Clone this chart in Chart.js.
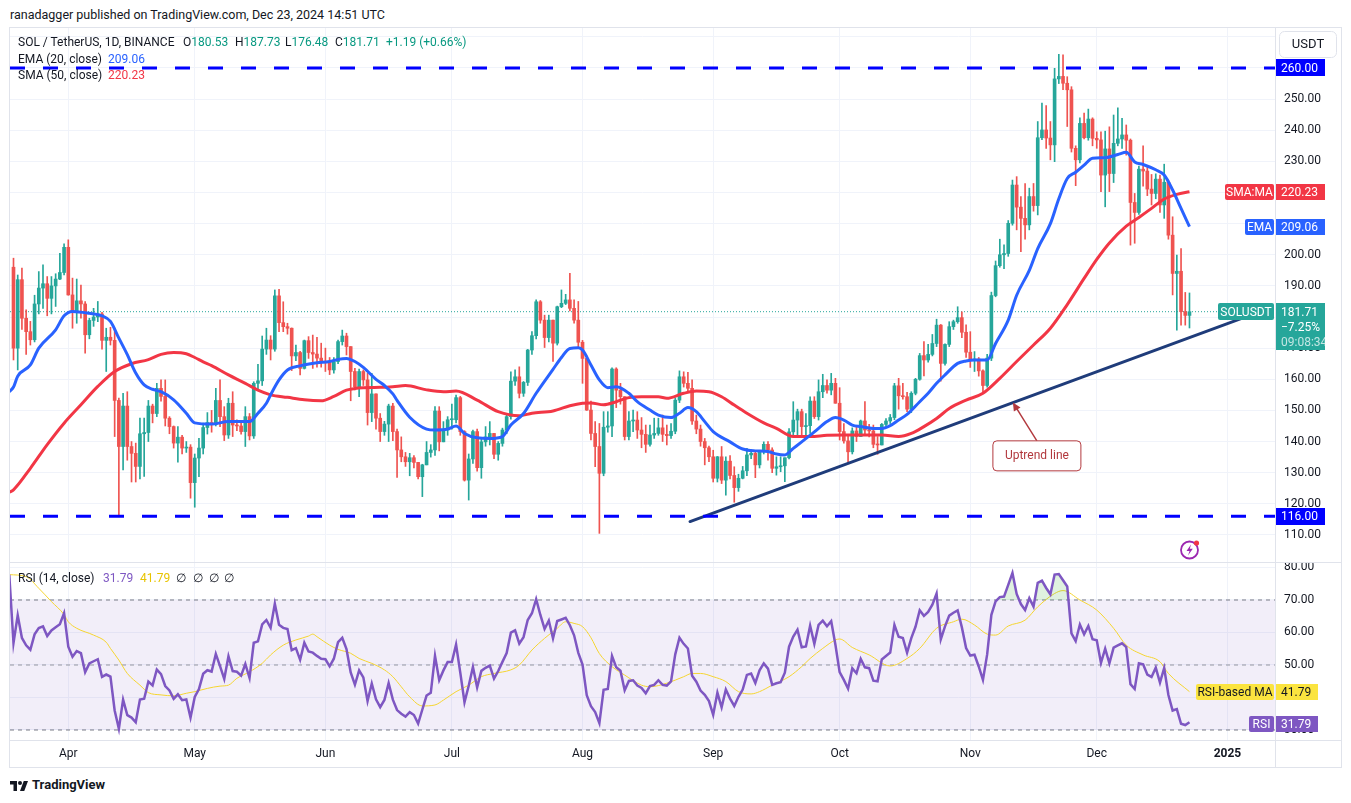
<!DOCTYPE html>
<html lang="en">
<head>
<meta charset="utf-8">
<title>SOL / TetherUS, 1D, BINANCE</title>
<script src="https://cdn.jsdelivr.net/npm/chart.js@4.4.1/dist/chart.umd.min.js"></script>
<style>
  html, body { margin: 0; padding: 0; background: #ffffff; }
  body { position: relative; width: 1351px; height: 803px; overflow: hidden;
         font-family: Roboto, "Liberation Sans", sans-serif; color: #131722; }
  canvas { position: absolute; }
  .rule { position: absolute; background: #e0e3eb; }
  .txt { position: absolute; white-space: nowrap; font-size: 12px; line-height: 16px; }
</style>
</head>
<body>

<div class="txt" style="left:10px;top:7px;font-size:12.5px;">ranadagger published on TradingView.com, Dec 23, 2024 14:51 UTC</div>

<canvas id="price-chart" style="left:10px;top:28px;" width="1331" height="534"></canvas>
<canvas id="rsi-chart" style="left:10px;top:562px;" width="1331" height="205"></canvas>

<!-- frame and pane separators -->
<div class="rule" style="left:9px;top:27px;width:1333px;height:1px;"></div>
<div class="rule" style="left:9px;top:767px;width:1333px;height:1px;"></div>
<div class="rule" style="left:9px;top:27px;width:1px;height:741px;"></div>
<div class="rule" style="left:1341px;top:27px;width:1px;height:741px;"></div>
<div class="rule" style="left:1275px;top:28px;width:1px;height:739px;"></div>
<div class="rule" style="left:10px;top:562px;width:1331px;height:1px;"></div>
<div class="rule" style="left:10px;top:740px;width:1331px;height:1px;"></div>

<!-- legend, price pane -->
<div class="txt" style="left:18px;top:34px;">SOL / TetherUS, 1D, BINANCE</div>
<div class="txt" style="left:183px;top:34px;">O<span style="color:#089981">180.53</span></div>
<div class="txt" style="left:235px;top:34px;">H<span style="color:#089981">187.73</span></div>
<div class="txt" style="left:285px;top:34px;">L<span style="color:#089981">176.48</span></div>
<div class="txt" style="left:335px;top:34px;">C<span style="color:#089981">181.71</span></div>
<div class="txt" style="left:386px;top:34px;color:#089981;">+1.19 (+0.66%)</div>
<div class="txt" style="left:18px;top:51px;">EMA (20, close)</div>
<div class="txt" style="left:108px;top:51px;color:#2962ff;">209.06</div>
<div class="txt" style="left:18px;top:67px;">SMA (50, close)</div>
<div class="txt" style="left:108px;top:67px;color:#f23645;">220.23</div>

<!-- legend, RSI pane -->
<div class="txt" style="left:18px;top:570px;">RSI (14, close)</div>
<div class="txt" style="left:103px;top:570px;color:#7e57c2;">31.79</div>
<div class="txt" style="left:140px;top:570px;color:#e8c400;">41.79</div>
<div class="txt" style="left:176px;top:570px;">&#8709;</div>
<div class="txt" style="left:193px;top:570px;">&#8709;</div>
<div class="txt" style="left:209px;top:570px;">&#8709;</div>
<div class="txt" style="left:224px;top:570px;">&#8709;</div>

<!-- alert icon -->
<svg style="position:absolute;left:1179px;top:539px;" width="22" height="22" viewBox="0 0 22 22">
  <circle cx="10.5" cy="11" r="8.5" fill="none" stroke="#9c27b0" stroke-width="1.8"/>
  <path d="M12 5.5 L7.5 12 H10.5 L9 16.5 L13.8 9.8 H10.8 Z" fill="#9c27b0"/>
  <circle cx="17.5" cy="4" r="2.6" fill="#f23645"/>
</svg>

<!-- TradingView mark -->
<svg style="position:absolute;left:10px;top:779px;" width="18" height="14" viewBox="0 0 36 28">
  <path d="M14 24H7V11H0V4h14z" fill="#131722"/>
  <circle cx="20" cy="8" r="4" fill="#131722"/>
  <path d="M28.5 24h-8.5l7.5-20h8.5z" fill="#131722"/>
</svg>
<div class="txt" style="left:32px;top:777px;font-size:13px;font-weight:bold;">TradingView</div>

<script>
/* ========================================
   SOL / TetherUS 1D - price pane + RSI pane
   values read off the TradingView snapshot
   ======================================== */

/* ---- daily candles, Mar 19 2024 .. Dec 23 2024 (index 0 .. 279) ---- */
/* open of each day = previous close (Binance daily) */
var firstOpen = 196;

var closes = [
    170, 192, 179.6, 175.3, 172.7, 184.2, 189.3, 190.7, 186, 190,
    192.2, 194.3, 202.4, 187.1, 181.8, 185.2, 184.2, 174.3, 178.9, 180,
    181, 172.5, 173.5, 172.5, 153.2, 138.4, 151.4, 138.4, 136.2, 132,
    142.5, 142.9, 151.4, 149, 157.1, 154.5, 147.5, 144.8, 139.5, 141.4,
    137.9, 138.2, 126.8, 134.7, 137.9, 144.5, 146.1, 145.5, 153.2, 148,
    142.1, 152.3, 145.3, 145, 143.2, 148, 141.8, 158.7, 159.5, 169.7,
    172.6, 169.7, 186.8, 178.2, 176.9, 176.4, 167.5, 168.6, 163.5, 172.4,
    168.6, 168.1, 166.8, 165.7, 165.5, 163, 165.7, 172.1, 173.9, 170.5,
    162.5, 157.6, 162.5, 159.8, 149.3, 155.3, 147.5, 143.2, 145.6, 151.4,
    143.2, 137.3, 135.1, 133.5, 134.8, 133.3, 128.7, 132.5, 136.5, 137.3,
    149.8, 139.9, 143.7, 147, 147, 154.1, 143.2, 127.6, 134.4, 143.2,
    131.6, 139.9, 141.5, 142.6, 135.9, 139.4, 143.7, 148, 159.4, 160.8,
    155.5, 159, 169.4, 174, 184.9, 179, 173.4, 179, 171.6, 183.3,
    184.4, 185.5, 182.8, 179, 171.9, 166.7, 150.1, 142.6, 138.4, 129.8,
    144.6, 145, 163.3, 156.5, 154.4, 141.6, 146.6, 146.9, 143.7, 142.3,
    139.1, 142.1, 142.6, 144.4, 142.3, 141.9, 143.3, 153.3, 160.8, 158.7,
    157.1, 146.6, 144, 140, 138, 135.1, 128.2, 135.1, 127.6, 133.7,
    129.1, 125.2, 128.2, 130.6, 135.7, 136.2, 132.5, 136.7, 139.1, 137.3,
    131.4, 131.9, 132.2, 134.8, 143.1, 146.9, 149.6, 144.8, 145.1, 153,
    148, 156, 158, 156.5, 158.7, 152.3, 143.2, 140.2, 136.7, 143.4,
    141.6, 146.6, 143.7, 143.4, 139.1, 138.9, 145.5, 146.6, 147.7, 157.9,
    154.7, 154.4, 150.4, 155.5, 160, 167.6, 166.2, 168, 171.5, 177.4,
    165.1, 171.2, 176.9, 178.5, 179.8, 175.1, 168.7, 166.2, 166.5, 162.7,
    158, 166.8, 186.9, 196.5, 200, 200.4, 210.1, 222.4, 215.3, 211.7,
    209.6, 218.7, 215.8, 237.6, 240.1, 237.5, 235.3, 256.5, 257.3, 255.1,
    253, 234.2, 230.5, 242.2, 237.6, 243.6, 237.4, 236.9, 225.6, 234,
    226.1, 235.8, 237.2, 238.5, 236.8, 216.8, 213.6, 227.5, 226.9, 221.1,
    219.7, 224.3, 216, 223.3, 206.3, 194, 194.7, 181.7, 180.52, 181.71
];

var highs = [
    198.9, 193.5, 195.7, 182.3, 178.6, 187, 194.6, 196.8, 193, 193,
    193.9, 200.5, 203.5, 204.8, 192.5, 192.2, 190.3, 185, 179.6, 182.8,
    185, 181.5, 176.4, 176.7, 176.4, 154, 155.5, 156, 140, 139.5,
    147.5, 147.5, 153.2, 152, 158.7, 159.8, 159.8, 148, 145, 144.8,
    142, 140, 139, 136, 141, 145.9, 149.3, 150, 157.1, 159.8,
    151.2, 153.9, 156, 147, 146, 151.2, 149, 159.2, 164.8, 173.9,
    176.4, 174, 188.7, 188.9, 184.9, 178, 176.5, 171, 169, 172.6,
    173.7, 174.2, 173.5, 171.6, 170, 167, 167, 172.6, 175.8, 174.8,
    170.5, 163.5, 163.3, 163, 161.9, 161.9, 155.3, 149, 146.5, 152,
    152.3, 144, 141.5, 136.5, 136.2, 135.5, 131.5, 132.7, 140, 139,
    151.2, 151.2, 146.4, 148, 152, 154.9, 154.5, 143.5, 136, 143.7,
    144, 141, 144.8, 146.4, 142, 140, 144.3, 148.5, 162.4, 163,
    164, 159.3, 169.6, 175.3, 185.5, 185.3, 180.6, 180.6, 179, 183.5,
    188.7, 187.3, 194, 185.5, 185, 172.5, 167.5, 153, 146.4, 145.8,
    149.6, 149.6, 163.7, 163.7, 158.7, 154.4, 149.6, 150.1, 149.6, 147.7,
    145.3, 145.3, 147.5, 147.5, 148.5, 145.3, 145.8, 154, 162.7, 162.4,
    162.2, 159.8, 148.5, 145.3, 141, 138.5, 137.2, 135.2, 138.4, 135.1,
    135.5, 131.9, 129.5, 132, 137.8, 137.3, 136.7, 136.8, 139.9, 140,
    138, 135.1, 135.1, 134.8, 144.2, 152.8, 150.4, 150.4, 149, 154.4,
    154.4, 159.8, 161.6, 159.8, 161.9, 160.3, 157.3, 145.8, 142.1, 144.4,
    144.8, 146.9, 152.8, 145.5, 145.3, 141.6, 145.8, 147.4, 148.7, 158.7,
    160.3, 158.7, 155.8, 156, 160.3, 168.3, 172.1, 171.2, 174.4, 179.3,
    177.6, 171.4, 178.5, 179, 183.3, 181.7, 177.5, 175.3, 168.9, 167,
    163, 168, 188, 198, 205, 203.2, 211, 224, 225.1, 218.7,
    222.9, 221.4, 222.9, 242.8, 248.7, 247.9, 242.8, 259.9, 264.4, 264.2,
    257.2, 254, 235, 244, 245.5, 246.8, 244, 239.5, 239.5, 239.7,
    241.1, 244.9, 247.2, 243.8, 241.7, 237.2, 219.7, 228.5, 235, 228.6,
    225.8, 226, 225.6, 229.1, 224, 212.2, 199.9, 202, 187.9, 187.73
];

var lows = [
    166.2, 163, 176, 168, 171, 172, 181, 182.8, 180.4, 181,
    183.4, 192, 193.5, 187, 176.4, 178, 179.6, 168.4, 173, 177,
    178.5, 169.7, 162.5, 171, 141.6, 116.2, 130.9, 134, 127, 127,
    128, 128.8, 140, 146, 148, 153, 145, 142.5, 137.9, 133.4,
    136, 136.5, 121.8, 118.9, 128.7, 136, 142.4, 143, 145, 144.8,
    140.3, 141, 141.6, 143.5, 142.4, 138.4, 140.5, 141, 157, 158,
    168, 166.2, 169, 175.3, 175.3, 174.5, 162.8, 166, 161.4, 163.3,
    166.7, 163.5, 163.9, 163.9, 162.5, 161.5, 162, 165, 171, 167.8,
    153.1, 156.6, 154.4, 158, 145.3, 146.4, 144, 140, 142, 140,
    140.3, 128.5, 133.5, 132, 129, 131.5, 128, 122.3, 134, 135,
    135.5, 137, 140, 142, 144, 146, 142, 127.3, 121.2, 133,
    130.5, 128.2, 138.5, 138.9, 134.5, 134, 138.5, 142.5, 147.2, 158,
    154, 154.5, 158, 168, 173, 178, 170.2, 172, 165.7, 171,
    183, 184, 182, 178, 170, 158.7, 150, 140.5, 131.9, 110.5,
    129, 143, 141.6, 150.9, 152, 140.5, 140.5, 143.2, 141, 138,
    136.5, 138.5, 141, 142, 140, 138.9, 141, 142.5, 152.5, 157.5,
    156, 145.5, 142.5, 138.5, 132.5, 133.5, 127, 127, 126.5, 122.8,
    128, 120.5, 124, 128, 129, 134.5, 128.4, 131.5, 136, 134,
    130, 129.2, 130.3, 127.1, 134.4, 141.5, 142.1, 141.5, 142.1, 142.6,
    147.4, 146.9, 154.1, 155.5, 155, 152.3, 140.5, 139.5, 133.5, 136,
    140, 142, 142.3, 141.5, 138, 135.9, 139, 145, 145.8, 147,
    150.4, 153.6, 149.6, 149.3, 155, 159.7, 161.1, 165.5, 167.5, 170.5,
    159.4, 164.5, 170.5, 176, 178, 173.4, 167, 163.8, 162.5, 161,
    155.5, 157.5, 166, 186.5, 196, 195.5, 199.5, 209.5, 208, 201,
    205, 208, 214, 212.8, 237, 234.2, 230.5, 229.9, 255, 253,
    241.2, 233, 222.2, 229.5, 237.2, 236.8, 235, 234.2, 220.3, 215.4,
    220.3, 223.2, 235, 234.2, 232, 203.1, 203.7, 213, 222, 219,
    216, 218, 213.6, 211.7, 205, 187.1, 175.8, 177.4, 177.4, 176.48
];

/* ---- EMA 20 / SMA 50 (day index, value) ---- */
var emaDays = [-1, 0, 1, 4, 6, 10, 12, 14, 18, 21, 23, 25, 27, 29, 31, 33, 35, 38, 41, 43,
    47, 51, 56, 58, 60, 61, 63, 65, 68, 72, 75, 77, 79, 81, 83, 86, 88, 90, 91, 94,
    98, 100, 103, 105, 107, 110, 113, 116, 118, 121, 124, 128, 130, 132, 134, 135, 137, 139, 141, 143,
    146, 148, 151, 153, 156, 158, 160, 162, 164, 166, 170, 173, 176, 179, 181, 183, 185, 187, 190, 193,
    195, 197, 199, 201, 204, 206, 208, 210, 212, 215, 217, 219, 221, 224, 226, 228, 231, 233, 236, 238,
    241, 243, 246, 248, 250, 252, 254, 256, 259, 262, 264, 266, 268, 271, 273, 275, 277, 279];
var emaValues = [156, 157.5, 161, 164.6, 170, 175.9, 180.4, 181.8, 181.2, 180.4, 178.6, 173.2, 167.9, 162, 158.2, 156.8, 156, 153.4, 149.1, 146,
    145.6, 146.4, 146.4, 149.1, 152.3, 155, 159.8, 163, 164.3, 165.3, 165.7, 166.4, 166.7, 165.7, 163.8, 160, 158, 155.3, 153.2, 147.8,
    144, 143.7, 144, 145, 142.6, 141.2, 141, 141.6, 145.3, 149, 155.5, 163.2, 167, 169.9, 170.1, 169.4, 164.6, 159.8, 157.3, 157.6,
    155.5, 152.8, 150.1, 148.5, 147.7, 149.1, 150.9, 149.6, 146.4, 143.2, 139.9, 137.6, 137, 136.8, 136, 135.7, 137.8, 139.9, 143.1, 146.4,
    147.7, 146.9, 145.3, 144.8, 144.2, 144.2, 145.1, 146.9, 148.7, 152.8, 155.5, 158.7, 161.4, 165.1, 165.9, 166.2, 166.2, 171.5, 179, 187,
    195, 202, 210, 218, 224.5, 226.5, 228.8, 231, 231.2, 232.2, 232.9, 229.8, 229, 227.3, 225.6, 220.8, 214.9, 209.06];

var smaDays = [-1, 0, 4, 8, 12, 16, 20, 24, 28, 32, 35, 38, 41, 43, 45, 47, 51, 55, 58, 61,
    65, 69, 73, 76, 79, 83, 87, 90, 93, 98, 102, 105, 110, 115, 120, 123, 128, 132, 135, 137,
    140, 143, 146, 149, 153, 155, 159, 162, 165, 168, 171, 174, 178, 181, 185, 189, 193, 197, 202, 206,
    210, 213, 216, 219, 222, 226, 230, 234, 238, 242, 246, 250, 254, 257, 260, 264, 267, 270, 273, 276, 279];
var smaValues = [123.7, 124.5, 131.4, 139, 145.9, 151.8, 157.7, 162.5, 165, 166.3, 168, 168.6, 168.2, 167, 165.6, 164.4, 161.4, 158.7, 156.5, 155,
    154.2, 153.4, 153.1, 154.5, 156.5, 157.3, 157.4, 157.6, 158, 156.6, 156, 156.2, 153.3, 149.6, 148.3, 149.1, 149.8, 151.5, 152.3, 152.4,
    151.8, 152.8, 154.1, 154.4, 154.4, 153.9, 155.5, 156.2, 156, 154.4, 151.7, 149.1, 146, 144.2, 141.6, 141.6, 142, 142.1, 142.1, 142.1,
    141.6, 142.6, 144.8, 147.4, 150.6, 153.3, 155.5, 160.3, 165.7, 171, 176.4, 184, 192.4, 198.5, 203.8, 209.2, 212, 214.9, 217.9, 219.4, 220.23];

/* ---- RSI-based MA (14) ---- */
var rsiMaDays = [-1, 3, 6, 9, 12, 13, 15, 19, 22, 23, 25, 27, 30, 32, 35, 38, 41, 43, 46, 49,
    51, 53, 56, 59, 61, 64, 67, 70, 71, 72, 75, 77, 80, 82, 85, 88, 90, 92, 94, 97,
    100, 102, 105, 108, 111, 114, 118, 120, 123, 126, 129, 131, 133, 135, 137, 139, 142, 145, 149, 151,
    155, 159, 161, 163, 166, 169, 172, 175, 177, 180, 184, 187, 189, 192, 195, 196, 199, 203, 208, 212,
    215, 219, 223, 225, 228, 231, 233, 236, 240, 243, 247, 249, 253, 257, 261, 264, 268, 272, 274, 279];
var rsiMaValues = [77.8, 77.2, 73.6, 69.5, 65.5, 63.3, 61.3, 59.2, 57, 55.1, 51.5, 47.4, 43.8, 41.5, 40.8, 40.5, 41.3, 41.8, 42.8, 43.5,
    43.8, 45.9, 47.9, 50.5, 53.1, 56.1, 57.7, 58.9, 59.5, 58.7, 56.1, 54.8, 53.6, 52, 50.5, 48.5, 46.4, 43.3, 40.2, 37.4,
    37.7, 39.2, 41.8, 43.8, 46.4, 47.4, 48.5, 50, 54.6, 58.2, 61.3, 63.3, 62.8, 61.8, 58.4, 53.5, 49.5, 46.9, 43.8, 43.3,
    44.4, 46.4, 47.4, 47.4, 46.4, 44.9, 41.8, 41.1, 41.8, 43.8, 46.4, 49.5, 52, 55.1, 57.7, 58, 55.4, 53.1, 49.7, 52,
    55.1, 61.3, 63.3, 64.1, 62.3, 59.5, 59.2, 62, 63.8, 67.9, 72, 72.9, 70, 66.9, 61.3, 56.1, 53.1, 51, 47.4, 41.79];

/* Wilder averages carried in from the days before the first visible candle */
var rsiSeedGain = 4.2;
var rsiSeedLoss = 1.2;

/* ---- axes, levels, drawings ---- */
var monthDays = [13, 43, 74, 104, 135, 166, 196, 227, 257, 288];
var monthLabels = ['Apr', 'May', 'Jun', 'Jul', 'Aug', 'Sep', 'Oct', 'Nov', 'Dec', '2025'];
var priceTicks = [110, 120, 130, 140, 150, 160, 170, 180, 190, 200, 210, 220, 230, 240, 250, 260, 270];
var rsiTicks = [30, 40, 50, 60, 70, 80];
var rsiLevels = [70, 50, 30];
var rangeLevels = [260, 116];
var trendDays = [160.5, 291.7];
var trendPrices = [114.3, 179.7];
var noteAnchor = [237.1, 152.5];   /* point on the uptrend line */
var noteCentre = [242.8, 135.4];   /* centre of the "Uptrend line" note */
var lastClose = 181.71;
var lastEma = 209.06;
var lastSma = 220.23;
var lastRsi = 31.79;
var lastRsiMa = 41.79;

(function () {
    'use strict';

    var UP = '#26a69a', DOWN = '#ef5350';
    var FONT = 'Roboto, "Liberation Sans", sans-serif';
    var X_MIN = -0.83, X_MAX = 299.29;

    Chart.defaults.font.family = FONT;
    Chart.defaults.color = '#131722';

    /* ---- candle pieces ---- */
    var opens = closes.map(function (c, i) { return i === 0 ? firstOpen : closes[i - 1]; });
    var candleColors = closes.map(function (c, i) { return c >= opens[i] ? UP : DOWN; });
    var bodies = closes.map(function (c, i) { return { x: i, y: [opens[i], c] }; });
    var wicks = closes.map(function (c, i) {
        return { x: i, y: [Math.min(lows[i], opens[i], c), Math.max(highs[i], opens[i], c)] };
    });

    function pairs(xs, ys) {
        return xs.map(function (x, k) { return { x: x, y: ys[k] }; });
    }
    function flat(v) {
        return [{ x: X_MIN, y: v }, { x: X_MAX, y: v }];
    }

    /* ---- RSI 14 (Wilder) from the closes ---- */
    function wilderRsi() {
        var g = rsiSeedGain, l = rsiSeedLoss, prev = firstOpen;
        var out = [{ x: -1, y: 100 - 100 / (1 + g / l) }];
        closes.forEach(function (c, i) {
            var d = c - prev;
            g = (g * 13 + Math.max(d, 0)) / 14;
            l = (l * 13 + Math.max(-d, 0)) / 14;
            out.push({ x: i, y: 100 - 100 / (1 + g / l) });
            prev = c;
        });
        return out;
    }

    /* ---- little helpers for axis tags ---- */
    function box(ctx, x, y, w, h, fill, r) {
        ctx.beginPath();
        if (ctx.roundRect) { ctx.roundRect(x, y, w, h, r || 0); } else { ctx.rect(x, y, w, h); }
        ctx.fillStyle = fill;
        ctx.fill();
    }
    function tag(ctx, x, yMid, w, h, fill, color, text, r) {
        box(ctx, x, Math.round(yMid - h / 2), w, h, fill, r);
        ctx.fillStyle = color;
        ctx.font = '12px ' + FONT;
        ctx.textAlign = 'left';
        ctx.textBaseline = 'middle';
        ctx.fillText(text, x + 5, Math.round(yMid) + 0.5);
    }
    function sideTag(ctx, right, yMid, w, h, fill, color, text) {
        box(ctx, right - w, Math.round(yMid - h / 2), w, h, fill, 2);
        ctx.fillStyle = color;
        ctx.font = '12px ' + FONT;
        ctx.textAlign = 'center';
        ctx.textBaseline = 'middle';
        ctx.fillText(text, right - w / 2, Math.round(yMid) + 0.5);
    }

    /* ---- price pane overlay: note, axis tags ---- */
    var priceOverlay = {
        id: 'priceOverlay',
        afterDraw: function (chart) {
            var ctx = chart.ctx, xs = chart.scales.x, ys = chart.scales.y, area = chart.chartArea;
            var axisX = area.right + 1;
            ctx.save();

            /* "Uptrend line" note */
            var ax = xs.getPixelForValue(noteAnchor[0]), ay = ys.getPixelForValue(noteAnchor[1]);
            var cx = xs.getPixelForValue(noteCentre[0]), cy = ys.getPixelForValue(noteCentre[1]);
            ctx.strokeStyle = '#b2383d';
            ctx.fillStyle = '#b2383d';
            ctx.lineWidth = 1.5;
            ctx.beginPath();
            ctx.moveTo(ax + 2, ay + 3);
            ctx.lineTo(cx, cy - 15);
            ctx.stroke();
            var ang = Math.atan2(ay - (cy - 15), ax - cx);
            ctx.beginPath();
            ctx.moveTo(ax, ay);
            ctx.lineTo(ax - 9 * Math.cos(ang - 0.45), ay - 9 * Math.sin(ang - 0.45));
            ctx.lineTo(ax - 9 * Math.cos(ang + 0.45), ay - 9 * Math.sin(ang + 0.45));
            ctx.closePath();
            ctx.fill();
            ctx.beginPath();
            if (ctx.roundRect) { ctx.roundRect(cx - 44, cy - 15, 88, 30, 4); } else { ctx.rect(cx - 44, cy - 15, 88, 30); }
            ctx.fillStyle = '#ffffff';
            ctx.fill();
            ctx.lineWidth = 1;
            ctx.stroke();
            ctx.fillStyle = '#b2383d';
            ctx.font = '12px ' + FONT;
            ctx.textAlign = 'center';
            ctx.textBaseline = 'middle';
            ctx.fillText('Uptrend line', cx, cy + 0.5);

            /* currency button */
            ctx.beginPath();
            if (ctx.roundRect) { ctx.roundRect(axisX + 3.5, 3.5, 57, 26, 5); } else { ctx.rect(axisX + 3.5, 3.5, 57, 26); }
            ctx.fillStyle = '#ffffff';
            ctx.fill();
            ctx.strokeStyle = '#e0e3eb';
            ctx.stroke();
            ctx.fillStyle = '#131722';
            ctx.font = '13px ' + FONT;
            ctx.fillText('USDT', axisX + 32, 17);

            /* level tags */
            rangeLevels.forEach(function (v) {
                tag(ctx, axisX, ys.getPixelForValue(v), 49, 17, '#0000ff', '#ffffff', v.toFixed(2));
            });

            var ySma = ys.getPixelForValue(lastSma);
            sideTag(ctx, area.right - 1, ySma, 49, 16, '#f23645', '#ffffff', 'SMA:MA');
            tag(ctx, axisX, ySma, 49, 16, '#f23645', '#ffffff', lastSma.toFixed(2));

            var yEma = ys.getPixelForValue(lastEma);
            sideTag(ctx, area.right - 1, yEma, 29, 16, '#2962ff', '#ffffff', 'EMA');
            tag(ctx, axisX, yEma, 49, 16, '#2962ff', '#ffffff', lastEma.toFixed(2));

            var yLast = ys.getPixelForValue(lastClose);
            sideTag(ctx, area.right - 1, yLast, 56, 17, UP, '#ffffff', 'SOLUSDT');
            box(ctx, axisX, Math.round(yLast - 8.5), 49, 47, UP, 0);
            ctx.textAlign = 'left';
            ctx.font = '12px ' + FONT;
            ctx.fillStyle = '#ffffff';
            ctx.fillText(lastClose.toFixed(2), axisX + 5, Math.round(yLast) + 0.5);
            ctx.fillText('\u22127.25%', axisX + 5, Math.round(yLast) + 15.5);
            ctx.fillStyle = 'rgba(255,255,255,0.72)';
            ctx.fillText('09:08:34', axisX + 5, Math.round(yLast) + 30.5);

            ctx.restore();
        }
    };

    /* ---- RSI pane overlay: axis tags ---- */
    var rsiOverlay = {
        id: 'rsiOverlay',
        afterDraw: function (chart) {
            var ctx = chart.ctx, ys = chart.scales.y, area = chart.chartArea;
            var axisX = area.right + 1;
            ctx.save();
            var yMa = ys.getPixelForValue(lastRsiMa);
            sideTag(ctx, area.right - 1, yMa, 78, 16, '#fbe43f', '#131722', 'RSI-based MA');
            tag(ctx, axisX, yMa, 42, 16, '#fbe43f', '#131722', lastRsiMa.toFixed(2));
            var yRsi = ys.getPixelForValue(lastRsi);
            sideTag(ctx, area.right - 1, yRsi, 25, 16, '#7e57c2', '#ffffff', 'RSI');
            tag(ctx, axisX, yRsi, 42, 16, '#7e57c2', '#ffffff', lastRsi.toFixed(2));
            ctx.restore();
        }
    };

    function xScale(withLabels) {
        return {
            type: 'linear',
            min: X_MIN,
            max: X_MAX,
            offset: false,
            position: 'bottom',
            border: { display: false },
            grid: { color: '#f0f3fa', drawTicks: false, offset: false },
            afterBuildTicks: function (axis) {
                axis.ticks = monthDays.map(function (d) { return { value: d }; });
            },
            afterFit: function (axis) {
                axis.height = withLabels ? 27 : 0;
                axis.paddingLeft = 0;
                axis.paddingRight = 0;
            },
            ticks: {
                display: withLabels,
                autoSkip: false,
                maxRotation: 0,
                padding: 7,
                color: '#131722',
                font: function (c) {
                    return { size: 12, weight: c.index === monthDays.length - 1 ? 'bold' : 'normal' };
                },
                callback: function (v, i) { return monthLabels[i]; }
            }
        };
    }

    /* hidden: tick values that sit under a value tag (TradingView drops them) */
    function yScale(min, max, ticks, hidden) {
        return {
            type: 'linear',
            position: 'right',
            min: min,
            max: max,
            border: { display: false },
            grid: { color: '#f0f3fa', drawTicks: false },
            afterBuildTicks: function (axis) {
                axis.ticks = ticks.map(function (v) { return { value: v }; });
            },
            afterFit: function (axis) {
                axis.width = 66;
                axis.paddingTop = 0;
                axis.paddingBottom = 0;
            },
            ticks: {
                padding: 9,
                color: '#131722',
                font: { size: 12 },
                callback: function (v) {
                    var under = hidden.some(function (t) { return Math.abs(t - v) < 3.5; });
                    return under ? '' : Number(v).toFixed(2);
                }
            }
        };
    }

    var common = {
        responsive: false,
        animation: false,
        events: [],
        layout: { padding: 0 },
        plugins: { legend: { display: false }, tooltip: { enabled: false } }
    };

    /* ---- price pane ---- */
    new Chart(document.getElementById('price-chart'), {
        type: 'bar',
        data: {
            datasets: [
                {
                    type: 'line', order: 0,
                    data: flat(rangeLevels[0]),
                    borderColor: '#0000ff', borderWidth: 3, borderDash: [15, 18],
                    pointRadius: 0
                },
                {
                    type: 'line', order: 0,
                    data: flat(rangeLevels[1]),
                    borderColor: '#0000ff', borderWidth: 3, borderDash: [15, 18],
                    pointRadius: 0
                },
                {
                    type: 'line', order: 1,
                    data: pairs(trendDays, trendPrices),
                    borderColor: '#1f3c7a', borderWidth: 3, borderCapStyle: 'round',
                    pointRadius: 0
                },
                {
                    type: 'line', order: 2,
                    data: pairs(emaDays, emaValues),
                    borderColor: '#2962ff', borderWidth: 3,
                    cubicInterpolationMode: 'monotone', pointRadius: 0
                },
                {
                    type: 'line', order: 3,
                    data: pairs(smaDays, smaValues),
                    borderColor: '#f23645', borderWidth: 3,
                    cubicInterpolationMode: 'monotone', pointRadius: 0
                },
                {
                    type: 'bar', order: 4,
                    data: bodies,
                    backgroundColor: candleColors,
                    barThickness: 3, minBarLength: 1, grouped: false, borderWidth: 0
                },
                {
                    type: 'bar', order: 5,
                    data: wicks,
                    backgroundColor: candleColors,
                    barThickness: 1, grouped: false, borderWidth: 0
                },
                {
                    type: 'line', order: 6,
                    data: flat(lastClose),
                    borderColor: UP, borderWidth: 1, borderDash: [1, 2],
                    pointRadius: 0
                }
            ]
        },
        options: Object.assign({}, common, {
            scales: {
                x: xScale(false),
                y: yScale(101.3, 272.85, priceTicks, [lastSma, lastEma, lastClose])
            }
        }),
        plugins: [priceOverlay]
    });

    /* ---- RSI pane ---- */
    new Chart(document.getElementById('rsi-chart'), {
        type: 'line',
        data: {
            datasets: [
                {
                    order: 0,
                    data: wilderRsi(),
                    borderColor: '#7e57c2', borderWidth: 2.5,
                    pointRadius: 0,
                    fill: { target: { value: rsiLevels[0] }, above: 'rgba(76, 175, 80, 0.18)', below: 'rgba(0, 0, 0, 0)' }
                },
                {
                    order: 1,
                    data: pairs(rsiMaDays, rsiMaValues),
                    borderColor: '#f5d530', borderWidth: 1,
                    cubicInterpolationMode: 'monotone', pointRadius: 0
                },
                {
                    order: 2, data: flat(rsiLevels[0]),
                    borderColor: '#787b86', borderWidth: 1, borderDash: [4, 4], pointRadius: 0
                },
                {
                    order: 2, data: flat(rsiLevels[1]),
                    borderColor: '#9598a1', borderWidth: 1, borderDash: [4, 4], pointRadius: 0
                },
                {
                    order: 2, data: flat(rsiLevels[2]),
                    borderColor: '#787b86', borderWidth: 1, borderDash: [4, 4], pointRadius: 0
                },
                {
                    order: 3, data: flat(rsiLevels[0]),
                    borderWidth: 0, pointRadius: 0,
                    backgroundColor: 'rgba(126, 87, 194, 0.1)',
                    fill: { target: { value: rsiLevels[2] } }
                }
            ]
        },
        options: Object.assign({}, common, {
            scales: {
                x: xScale(true),
                y: yScale(26.92, 81.69, rsiTicks, [])
            }
        }),
        plugins: [rsiOverlay]
    });
})();
</script>
</body>
</html>
